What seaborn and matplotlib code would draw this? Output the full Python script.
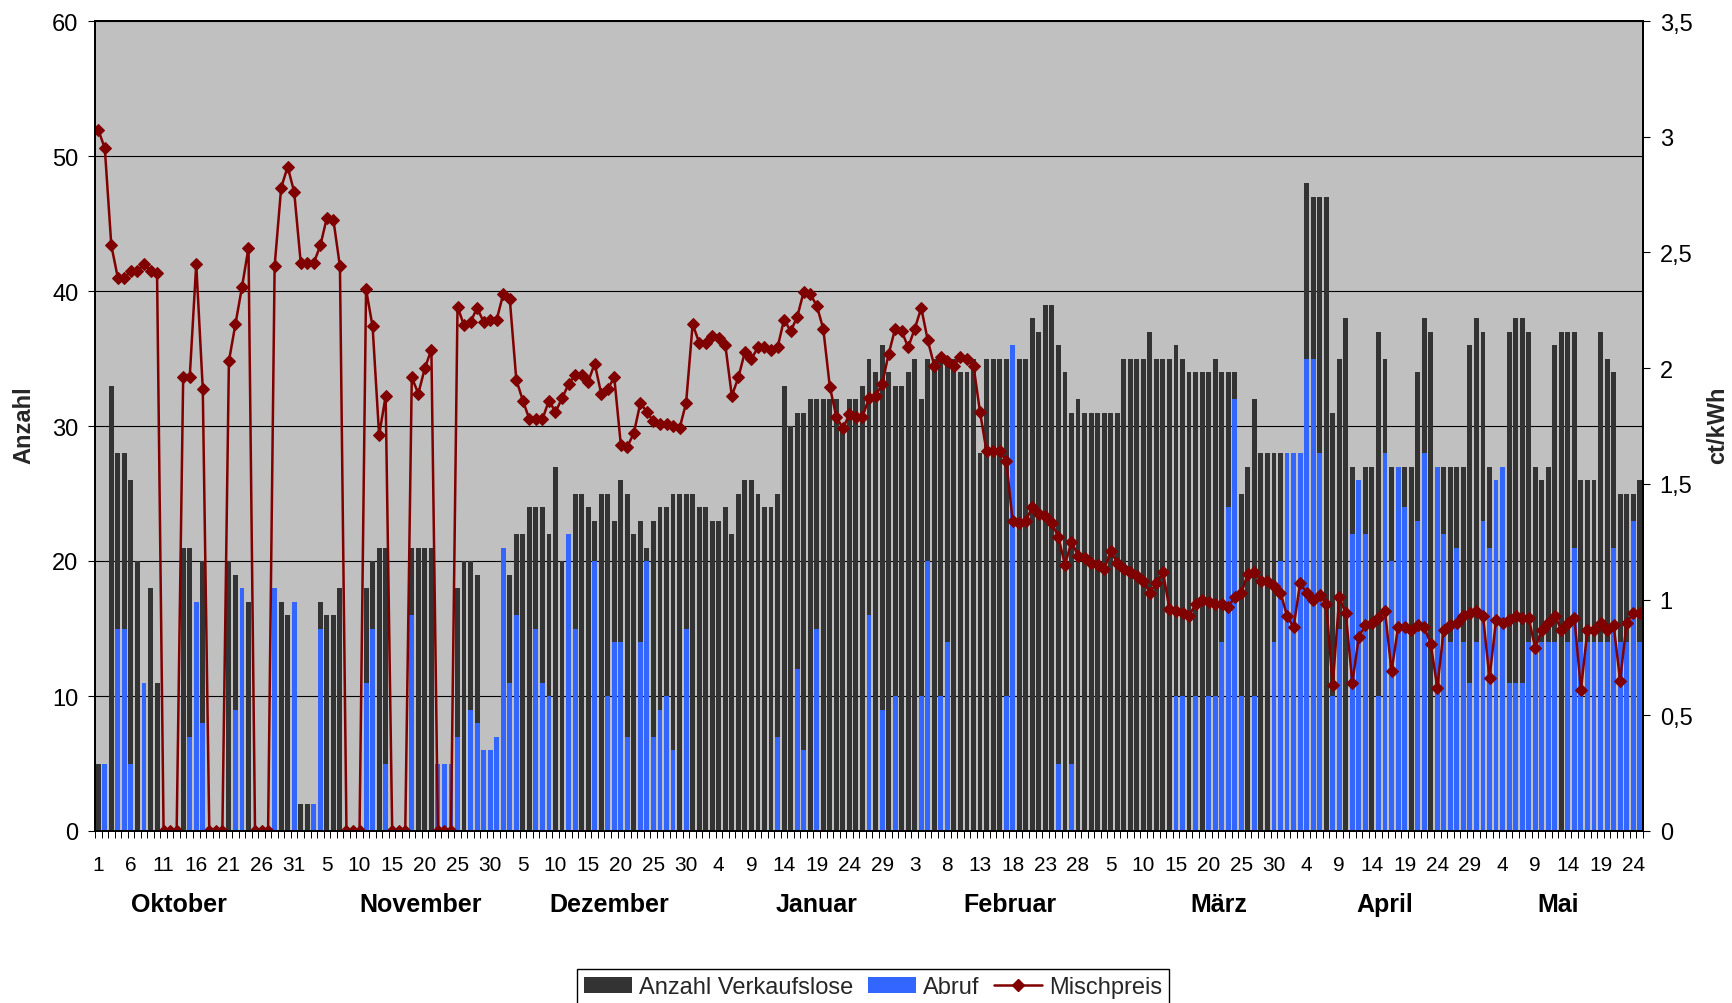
import numpy as np
import pandas as pd
import matplotlib
matplotlib.use("Agg")
import matplotlib.pyplot as plt
import matplotlib.transforms as mtransforms
from matplotlib.patches import Patch
from matplotlib.lines import Line2D
from matplotlib.ticker import FixedLocator
import seaborn as sns

# ---------------- data ----------------
lose_okt = [5,5,33,28,28,26,20,11,18,11,0,0,0,21,21,17,20,0,0,0,20,19,18,17,0,0,0,18,17,16,17]
lose_nov = [2,2,2,17,16,16,18,0,0,0,18,20,21,21,0,0,0,21,21,21,21,5,5,5,18,20,20,19,6,6]
lose_dez = [7,21,19,22,22,24,24,24,22,27,20,22,25,25,24,23,25,25,23,26,25,22,23,21,23,24,24,25,25,25,25]
lose_jan = [24,24,23,23,24,22,25,26,26,25,24,24,25,33,30,31,31,32,32,32,32,32,30,32,32,33,35,34,36,34,33]
lose_feb = [33,34,35,32,35,35,35,35,35,34,34,35,28,35,35,35,35,36,35,35,38,37,39,39,36,34,31,32]
lose_mar = [31,31,31,31,31,31,35,35,35,35,37,35,35,35,36,35,34,34,34,34,35,34,34,34,25,27,32,28,28,28,28]
lose_apr = [28,28,28,48,47,47,47,31,35,38,27,26,27,27,37,35,27,27,27,27,34,38,37,27,27,27,27,27,36,38]
lose_mai = [37,27,26,27,37,38,38,37,27,26,27,36,37,37,37,26,26,26,37,35,34,25,25,25,26]

abruf_okt = [0,5,0,15,15,5,0,11,0,0,0,0,0,0,7,17,8,0,0,0,0,9,18,0,0,0,0,18,0,0,17]
abruf_nov = [0,0,2,15,0,0,0,0,0,0,11,15,0,5,0,0,0,16,0,0,0,5,5,5,7,0,9,8,6,6]
abruf_dez = [7,21,11,16,0,0,15,11,10,0,0,22,15,0,0,20,0,10,14,14,7,0,14,20,7,9,10,6,0,15,0]
abruf_jan = [0,0,0,0,0,0,0,0,0,0,0,0,7,0,0,12,6,0,15,0,0,0,0,0,0,0,16,0,9,0,10]
abruf_feb = [0,0,0,10,20,0,10,14,0,0,0,0,0,0,0,0,10,36,0,0,0,0,0,0,5,0,5,0]
abruf_mar = [0,0,0,0,0,0,0,0,0,0,0,0,0,0,10,10,0,10,0,10,10,14,24,32,10,0,10,0,0,14,20]
abruf_apr = [28,28,28,35,35,28,0,10,15,0,22,26,22,0,10,28,20,27,24,0,23,28,0,27,22,14,21,14,11,14]
abruf_mai = [23,21,26,27,11,11,11,14,14,14,14,14,0,14,21,14,14,14,14,14,21,14,14,23,14]

preis_okt = [3.03,2.95,2.53,2.39,2.39,2.42,2.42,2.45,2.42,2.41,0,0,0,1.96,1.96,2.45,1.91,0,0,0,
             2.03,2.19,2.35,2.52,0,0,0,2.44,2.78,2.87,2.76]
preis_nov = [2.455,2.455,2.455,2.53,2.65,2.64,2.44,0,0,0,2.34,2.18,1.71,1.88,0,0,0,1.96,1.89,2.0,
             2.08,0,0,0,2.265,2.185,2.2,2.26,2.2,2.21]
preis_dez = [2.21,2.32,2.30,1.95,1.86,1.78,1.78,1.78,1.86,1.81,1.87,1.93,1.97,1.97,1.94,2.02,1.89,
             1.91,1.96,1.67,1.66,1.72,1.85,1.81,1.77,1.76,1.76,1.75,1.74,1.85,2.19]
preis_jan = [2.11,2.11,2.14,2.13,2.10,1.88,1.96,2.07,2.04,2.09,2.09,2.08,2.09,2.21,2.16,2.22,2.33,
             2.32,2.27,2.17,1.92,1.79,1.74,1.80,1.79,1.79,1.87,1.88,1.93,2.06,2.17]
preis_feb = [2.16,2.09,2.17,2.26,2.12,2.01,2.05,2.03,2.01,2.05,2.04,2.01,1.81,1.64,1.64,1.64,1.60,
             1.34,1.33,1.34,1.40,1.37,1.36,1.33,1.27,1.15,1.25,1.19]
preis_mar = [1.18,1.16,1.15,1.13,1.21,1.16,1.13,1.12,1.10,1.08,1.03,1.07,1.12,0.96,0.95,0.94,0.93,
             0.98,1.00,0.99,0.98,0.98,0.97,1.01,1.03,1.11,1.12,1.08,1.08,1.06,1.03]
preis_apr = [0.93,0.88,1.07,1.03,1.00,1.02,0.98,0.63,1.01,0.94,0.64,0.84,0.89,0.90,0.92,0.95,0.69,
             0.88,0.88,0.87,0.89,0.88,0.81,0.62,0.87,0.89,0.90,0.93,0.94,0.95]
preis_mai = [0.93,0.66,0.91,0.90,0.91,0.93,0.92,0.92,0.79,0.87,0.90,0.93,0.87,0.90,0.92,0.61,0.87,
             0.87,0.90,0.87,0.89,0.65,0.90,0.94,0.94]

tick_labels = ["1","6","11","16","21","26","31",
               "5","10","15","20","25","30",
               "5","10","15","20","25","30",
               "4","9","14","19","24","29",
               "3","8","13","18","23","28",
               "5","10","15","20","25","30",
               "4","9","14","19","24","29",
               "4","9","14","19","24"]
month_names = ["Oktober","November","Dezember","Januar","Februar","März","April","Mai"]
y_right_labels = ["0","0,5","1","1,5","2","2,5","3","3,5"]

# ---------------- layout / style ----------------
month_label_pos = [12.4, 49.4, 78.2, 110.0, 139.6, 171.6, 197.0, 223.5]
C_DARK = "#333333"
C_BLUE = "#3366FF"
C_LINE = "#800000"
C_BG = "#C0C0C0"

lose = np.concatenate([lose_okt, lose_nov, lose_dez, lose_jan, lose_feb, lose_mar, lose_apr, lose_mai])
abruf = np.concatenate([abruf_okt, abruf_nov, abruf_dez, abruf_jan, abruf_feb, abruf_mar, abruf_apr, abruf_mai])
preis = np.concatenate([preis_okt, preis_nov, preis_dez, preis_jan, preis_feb, preis_mar, preis_apr, preis_mai])
n = len(lose)
df = pd.DataFrame({"tag": np.arange(n), "lose": lose, "abruf": abruf, "preis": preis})

sns.set_theme(style="white")
plt.rcParams["font.family"] = ["Liberation Sans", "DejaVu Sans"]

W, H = 1733, 1004
fig = plt.figure(figsize=(W / 100, H / 100), dpi=100)
fig.patch.set_facecolor("white")
L, R, T, B = 95, 1643, 22, 832
ax = fig.add_axes([L / W, 1 - B / H, (R - L) / W, (B - T) / H])
ax.set_facecolor(C_BG)

sns.barplot(data=df, x="tag", y="lose", color=C_DARK, saturation=1, width=0.75,
            errorbar=None, ax=ax, linewidth=0, edgecolor="none")
sns.barplot(data=df, x="tag", y="abruf", color=C_BLUE, saturation=1, width=0.75,
            errorbar=None, ax=ax, linewidth=0, edgecolor="none")
ax.set_xlim(-0.5, n - 0.5)
ax.set_ylim(0, 60)
ax.set_xlabel("")
ax.set_ylabel("")
ax.set_axisbelow(True)
ax.yaxis.grid(True, color="black", linewidth=0.8)
ax.xaxis.grid(False)

ax.set_yticks(range(0, 61, 10))
ax.set_yticklabels([str(v) for v in range(0, 61, 10)])
ax.tick_params(axis="y", which="major", left=True, length=5, width=0.8, color="black",
               labelsize=17, pad=7, labelcolor="black")

ax.set_xticks(np.arange(0, n, 5))
ax.set_xticklabels(tick_labels)
ax.xaxis.set_minor_locator(FixedLocator(np.arange(-0.5, n, 1)))
ax.tick_params(axis="x", which="major", bottom=True, length=0, pad=17, labelsize=15,
               labelcolor="black")
ax.tick_params(axis="x", which="minor", bottom=True, length=5, width=0.7, color="black")

ax2 = ax.twinx()
sns.lineplot(data=df, x="tag", y="preis", ax=ax2, color=C_LINE, linewidth=1.8,
             marker="D", markersize=6.5, markeredgecolor=C_LINE, markerfacecolor=C_LINE)
ax2.set_ylim(0, 3.5)
ax2.set_xlim(-0.5, n - 0.5)
ax2.set_ylabel("")
ax2.set_xlabel("")
ax2.set_yticks(np.arange(0, 3.51, 0.5))
ax2.set_yticklabels(y_right_labels)
ax2.tick_params(axis="y", right=True, length=5, width=0.8, color="black",
                labelsize=17, pad=7, labelcolor="black")
ax2.grid(False)

for a in (ax, ax2):
    for s in a.spines.values():
        s.set_color("black")
        s.set_linewidth(1.3)
        s.set_visible(True)

trans = mtransforms.blended_transform_factory(ax.transData, ax.transAxes)
for name, pos in zip(month_names, month_label_pos):
    ax.text(pos, -0.090, name, transform=trans, ha="center", va="center",
            fontsize=18, fontweight="bold", color="black")

fig.text(24 / W, 1 - 425 / H, "Anzahl", rotation=90, ha="center", va="center",
         fontsize=17, fontweight="bold")
fig.text(1718 / W, 1 - 425 / H, "ct/kWh", rotation=90, ha="center", va="center",
         fontsize=17, fontweight="bold")

handles = [Patch(facecolor=C_DARK, edgecolor="none"),
           Patch(facecolor=C_BLUE, edgecolor="none"),
           Line2D([], [], color=C_LINE, lw=1.8, marker="D", markersize=6.5)]
leg = fig.legend(handles, ["Anzahl Verkaufslose", "Abruf", "Mischpreis"],
                 loc="upper center", bbox_to_anchor=(873 / W, 1 - 970 / H), ncol=3,
                 frameon=True, fancybox=False, framealpha=1, edgecolor="black",
                 fontsize=17, handlelength=2.05, handletextpad=0.3, columnspacing=0.6,
                 borderpad=0.3, borderaxespad=0)
leg.get_frame().set_linewidth(1.0)

fig.savefig("out.png", dpi=100)
